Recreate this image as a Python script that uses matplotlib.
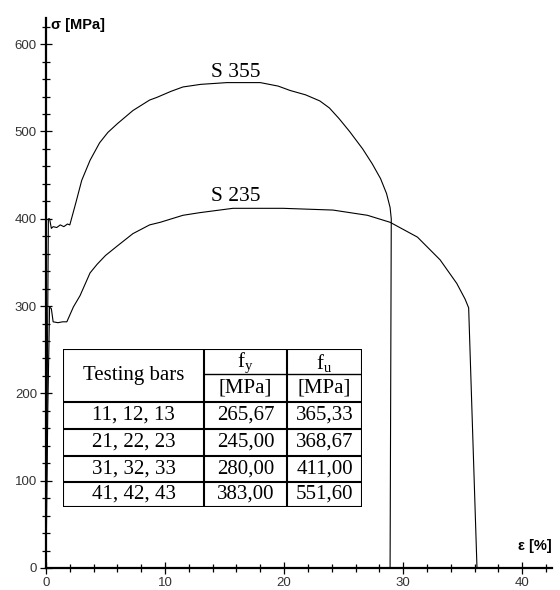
import numpy as np
import matplotlib.pyplot as plt
from matplotlib.ticker import MultipleLocator

plt.rcParams['mathtext.fontset'] = 'custom'
plt.rcParams['mathtext.rm'] = 'Liberation Serif'

#Stress-strain curves
eps_355 = [0, 0.1, 0.2, 0.3, 0.45, 0.6, 0.9, 1.2, 1.5, 1.8, 2.0, 2.5, 3.0, 3.7, 4.5,
           5.2, 6.0, 7.3, 8.7, 9.3, 10.5, 11.5, 13.0, 15.2, 18.0, 19.5, 20.5, 21.8,
           23.0, 23.8, 24.6, 25.5, 26.6, 27.4, 28.1, 28.6, 28.9, 29.0, 28.9]
sig_355 = [0, 200, 400, 400, 389, 391, 390, 393, 391, 394, 393, 418, 444, 467, 487,
           499, 509, 524, 536, 539, 546, 551, 554, 556, 556, 552, 547, 542,
           535, 527, 515, 500, 480, 463, 446, 429, 413, 400, 0]

eps_235 = [0, 0.15, 0.3, 0.45, 0.6, 1.0, 1.4, 1.75, 2.3, 2.86, 3.7, 4.3, 5.0, 6.0,
           7.3, 8.7, 9.6, 11.5, 12.9, 15.7, 19.9, 24.1, 27.0, 28.9, 31.2, 33.1,
           34.5, 35.2, 35.5, 36.2]
sig_235 = [0, 180, 299, 297, 282, 281, 282, 282, 299, 312, 338, 348, 358, 369,
           383, 393, 396, 404, 407, 412, 412, 410, 404, 396, 379, 353,
           326, 308, 298, 0]

curve_names = ['S 355', 'S 235']
label_pos = [(15.9, 568), (15.9, 425)]

#Table contents
col_head = ['Testing bars', r'$\mathregular{f_y}$', r'$\mathregular{f_u}$']
unit_head = ['[MPa]', '[MPa]']
bars = ['11, 12, 13', '21, 22, 23', '31, 32, 33', '41, 42, 43']
f_y = ['265,67', '245,00', '280,00', '383,00']
f_u = ['365,33', '368,67', '411,00', '551,60']

fig = plt.figure(figsize=(5.6, 5.9), dpi=100)
ax = fig.add_axes([46/560, 22/590, 506/560, 550/590])

for e, s in [(eps_355, sig_355), (eps_235, sig_235)]:
    ax.plot(e, s, color='black', lw=0.8)

for name, (x, y) in zip(curve_names, label_pos):
    ax.text(x, y, name, family='Liberation Serif', fontsize=15.5,
            ha='center', va='center')

ax.set_xlim(0, 42.5)
ax.set_ylim(0, 630)
ax.spines['top'].set_visible(False)
ax.spines['right'].set_visible(False)
ax.spines['left'].set_linewidth(1.6)
ax.spines['bottom'].set_linewidth(1.6)
ax.xaxis.set_major_locator(MultipleLocator(10))
ax.xaxis.set_minor_locator(MultipleLocator(2))
ax.yaxis.set_major_locator(MultipleLocator(100))
ax.yaxis.set_minor_locator(MultipleLocator(20))
ax.tick_params(which='major', direction='inout', length=9, width=0.9,
               labelsize=9.5, labelcolor='#333333', pad=2)
ax.tick_params(which='minor', direction='inout', length=6, width=0.9)
for lab in ax.get_xticklabels() + ax.get_yticklabels():
    lab.set_family('Liberation Sans')

fig.text(51/560, 1 - 25/590, 'σ [MPa]', fontsize=10.5, fontweight='bold',
         family='Liberation Sans', va='center', ha='left')
fig.text(518/560, 1 - 546/590, 'ε [%]', fontsize=10.5, fontweight='bold',
         family='Liberation Sans', va='center', ha='left')

#Table drawn in its own axes, coordinates in pixels of the box
tab = fig.add_axes([63/560, (590-507)/590, 299/560, 158/590])
tab.set_xlim(0, 299)
tab.set_ylim(158, 0)
tab.axis('off')
cols = [0, 141, 224, 299]
rows = [0, 25, 53, 80, 107, 133, 158]
lw = 1.5
for x in cols:
    tab.plot([x, x], [0, 158], color='black', lw=lw, solid_capstyle='projecting')
for y in [0, 53, 80, 107, 133, 158]:
    tab.plot([0, 299], [y, y], color='black', lw=lw, solid_capstyle='projecting')
tab.plot([141, 299], [25, 25], color='black', lw=1.0)

fs = 15
serif = 'Liberation Serif'
tab.text((cols[0] + cols[1]) / 2, rows[2] / 2, col_head[0], family=serif,
         fontsize=fs, ha='center', va='center')
for i in range(2):
    xc = (cols[i + 1] + cols[i + 2]) / 2
    tab.text(xc, (rows[0] + rows[1]) / 2 + 1, col_head[i + 1], family=serif,
             fontsize=fs, ha='center', va='center')
    tab.text(xc, (rows[1] + rows[2]) / 2, unit_head[i], family=serif,
             fontsize=fs, ha='center', va='center')
for r in range(len(bars)):
    yc = (rows[r + 2] + rows[r + 3]) / 2
    for c, val in enumerate([bars[r], f_y[r], f_u[r]]):
        tab.text((cols[c] + cols[c + 1]) / 2, yc, val, family=serif,
                 fontsize=fs, ha='center', va='center')

fig.savefig('out.png', dpi=100)
